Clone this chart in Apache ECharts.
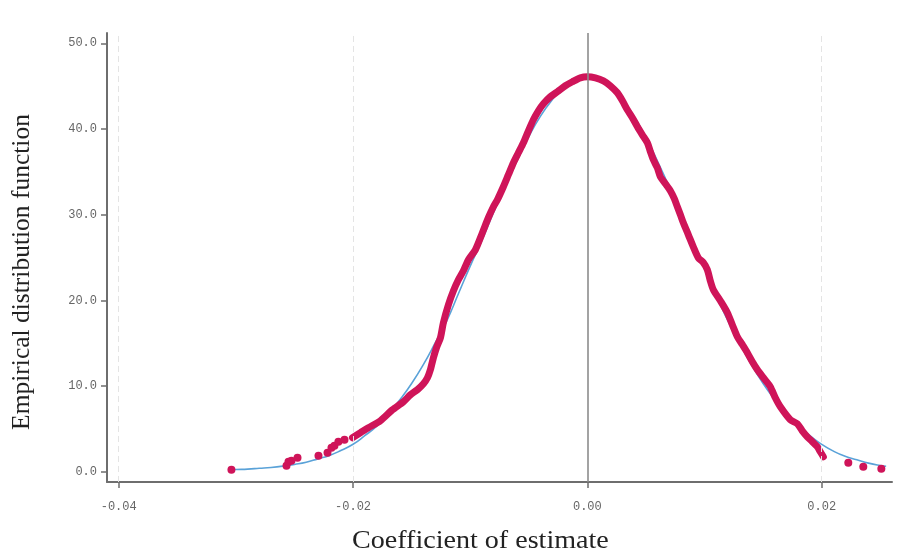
<!DOCTYPE html>
<html>
<head>
<meta charset="utf-8">
<script src="https://cdn.jsdelivr.net/npm/echarts@6/dist/echarts.min.js"></script>
<style>html,body{margin:0;padding:0;background:#fff}#c{width:899px;height:557px}</style>
</head>
<body>
<div id="c"></div>
<script>
// ---- data ----
const xTicks = [-0.04, -0.02, 0.00, 0.02];
const yTicks = [0, 10, 20, 30, 40, 50];
const xTitle = 'Coefficient of estimate';
const yTitle = 'Empirical distribution function';

// fitted curve (thin blue line): [coefficient, density]
const fitX = [-0.0305,-0.030,-0.029,-0.028,-0.027,-0.026,-0.025,-0.024,-0.023,-0.022,-0.021,-0.020,-0.019,-0.018,-0.017,-0.016,-0.015,-0.014,-0.013,-0.012,-0.011,-0.010,-0.009,-0.008,-0.007,-0.006,-0.005,-0.004,-0.003,-0.002,-0.001,0.000,0.001,0.002,0.003,0.004,0.005,0.006,0.007,0.008,0.009,0.010,0.011,0.012,0.013,0.014,0.015,0.016,0.017,0.018,0.019,0.020,0.021,0.022,0.023,0.024,0.025,0.0255];
const fitY = [0.2,0.25,0.3,0.4,0.5,0.65,0.85,1.1,1.5,1.9,2.5,3.2,4.2,5.3,6.7,8.4,10.3,12.5,15.0,17.6,20.8,24.0,27.0,30.3,33.4,36.3,39.1,41.5,43.4,44.9,45.7,46.0,45.7,44.8,43.3,41.4,39.0,36.2,33.2,30.0,26.8,23.7,20.6,17.6,15.0,12.5,10.3,8.4,6.7,5.3,4.2,3.2,2.4,1.8,1.4,1.0,0.72,0.63];

// estimated coefficients (dense red band)
const estX = [-0.02005,-0.01937,-0.01869,-0.01766,-0.01664,-0.01570,-0.01510,-0.01451,-0.01399,-0.01365,-0.01340,-0.01314,-0.01288,-0.01254,-0.01229,-0.01186,-0.01143,-0.01101,-0.01058,-0.01015,-0.00956,-0.00896,-0.00845,-0.00802,-0.00768,-0.00717,-0.00674,-0.00631,-0.00589,-0.00546,-0.00503,-0.00461,-0.00418,-0.00375,-0.00316,-0.00256,-0.00188,-0.00128,-0.00060,0.00000,0.00068,0.00137,0.00196,0.00256,0.00299,0.00341,0.00384,0.00427,0.00469,0.00512,0.00538,0.00563,0.00597,0.00623,0.00666,0.00708,0.00742,0.00768,0.00794,0.00819,0.00862,0.00904,0.00947,0.00990,0.01024,0.01049,0.01075,0.01135,0.01195,0.01237,0.01280,0.01323,0.01365,0.01408,0.01451,0.01502,0.01561,0.01604,0.01647,0.01732,0.01792,0.01834,0.01877,0.01920,0.01962,0.01988,0.02014];
const estY = [3.97,4.55,5.13,5.95,7.23,8.17,8.98,9.57,10.27,10.97,11.90,13.30,14.47,15.64,17.39,19.49,21.12,22.40,23.45,24.74,25.90,27.89,29.64,30.92,31.74,33.26,34.66,36.06,37.22,38.39,39.79,41.07,42.12,42.94,43.76,44.34,45.04,45.51,45.97,46.09,45.97,45.62,45.04,44.22,43.29,42.24,41.31,40.26,39.32,38.39,37.34,36.41,35.47,34.42,33.61,32.79,31.86,30.92,29.99,29.05,27.65,26.25,24.97,24.39,23.57,22.29,21.24,19.95,18.55,17.15,15.75,14.82,13.89,12.84,11.90,10.97,9.92,8.63,7.58,6.07,5.60,4.78,4.08,3.50,2.92,2.33,1.75];

// isolated estimates in the tails (red dots)
const tailX = [-0.03038,-0.02568,-0.02551,-0.02526,-0.02474,-0.02295,-0.02218,-0.02184,-0.02159,-0.02125,-0.02073,0.02227,0.02355,0.02509];
const tailY = [0.23,0.70,1.17,1.28,1.63,1.87,2.22,2.80,3.03,3.50,3.73,1.05,0.58,0.35];

const zip = (a, b) => a.map((v, i) => [v, b[i]]);
const RED = '#cf1459';
const AX = '#6e6e6e';
const tickFont = {fontFamily: 'Liberation Mono', fontSize: 12, color: '#666'};

const chart = echarts.init(document.getElementById('c'), null, {renderer: 'canvas'});
chart.setOption({
  animation: false,
  backgroundColor: '#fff',
  grid: {left: 107, right: 7, top: 33, bottom: 75, containLabel: false},
  xAxis: {
    type: 'value', min: -0.041, max: 0.026,
    axisLine: {show: true, onZero: false, lineStyle: {color: AX, width: 2}},
    axisTick: {show: true, customValues: xTicks, length: 6, lineStyle: {color: AX, width: 1.5}},
    axisLabel: Object.assign({customValues: xTicks, margin: 19, formatter: v => v.toFixed(2)}, tickFont),
    splitLine: {show: false}
  },
  yAxis: {
    type: 'value', min: -1.2, max: 51.2,
    axisLine: {show: true, onZero: false, lineStyle: {color: AX, width: 2}},
    axisTick: {show: true, customValues: yTicks, length: 6, lineStyle: {color: AX, width: 1.5}},
    axisLabel: Object.assign({customValues: yTicks, margin: 10, formatter: v => v.toFixed(1)}, tickFont),
    splitLine: {show: false}
  },
  graphic: [
    {type: 'text', x: 352, y: 528, scaleX: 1.08, style: {text: xTitle, font: '26px "Liberation Serif"', fill: '#222'}},
    {type: 'text', x: 9, y: 272, rotation: Math.PI / 2, style: {text: yTitle, font: '25.5px "Liberation Serif"', fill: '#222', align: 'center', verticalAlign: 'top'}}
  ],
  series: [
    {
      type: 'line', data: zip(fitX, fitY), smooth: true, showSymbol: false, z: 2,
      lineStyle: {color: '#5aa2d8', width: 1.6},
      markLine: {
        silent: true, symbol: 'none', label: {show: false}, animation: false,
        data: [
          {xAxis: -0.04, lineStyle: {color: '#e4e4e4', width: 1, type: [6, 4]}},
          {xAxis: -0.02, lineStyle: {color: '#e4e4e4', width: 1, type: [6, 4]}},
          {xAxis: 0.02, lineStyle: {color: '#e4e4e4', width: 1, type: [6, 4]}},
          {xAxis: 0, lineStyle: {color: '#8c8c8c', width: 1.6, type: 'solid'}}
        ]
      }
    },
    {
      type: 'line', data: zip(estX, estY), showSymbol: false, smooth: 0.25, z: 3,
      lineStyle: {color: RED, width: 7, cap: 'round', join: 'round'}
    },
    {
      type: 'scatter', data: zip(tailX, tailY), symbolSize: 8, z: 4,
      itemStyle: {color: RED, opacity: 1}
    }
  ]
});
</script>
</body>
</html>
